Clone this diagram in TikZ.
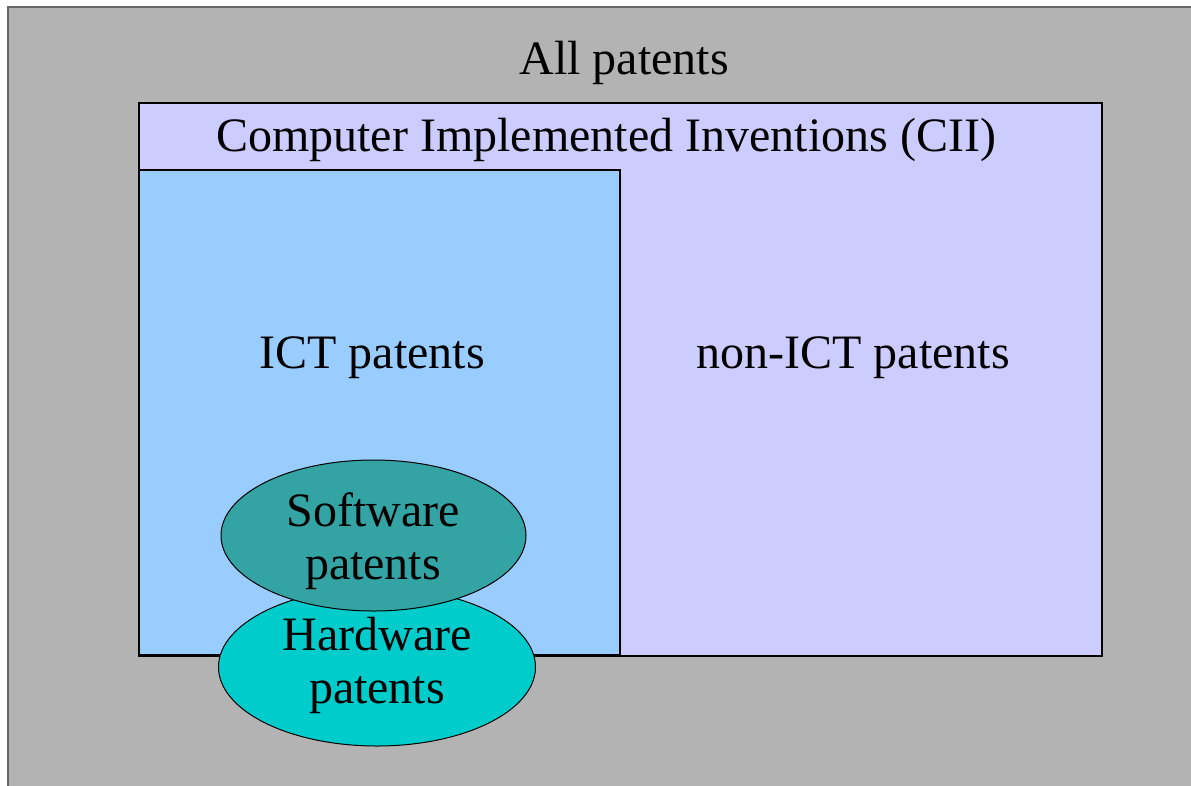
\documentclass[tikz,border=0pt]{standalone}
\usepackage{fontspec}
\setmainfont{Liberation Serif}
\usetikzlibrary{shapes.geometric}
\definecolor{allgray}{HTML}{B3B3B3}
\definecolor{allborder}{HTML}{666666}
\definecolor{ciifill}{HTML}{CCCCFF}
\definecolor{ictfill}{HTML}{99CCFF}
\definecolor{hwfill}{HTML}{00CCCC}
\definecolor{swfill}{HTML}{33A3A3}
\tikzset{
  area/.style={draw=black, line width=1.2pt},
  label/.style={font=\fontsize{48}{53}\selectfont, align=center, inner sep=0pt},
  blob/.style={ellipse, draw=black, line width=1pt, inner sep=0pt}
}
\begin{document}
\begin{tikzpicture}[x=1pt,y=-1pt]
  \useasboundingbox (0,0) rectangle (1191,785);
  \clip (0,0) rectangle (1191,785);
  % all patents
  \filldraw[fill=allgray, draw=allborder, line width=2pt] (8,7) rectangle (1210,800);
  \node[label] (all) at (624,63) {All patents};
  % computer implemented inventions
  \filldraw[area, fill=ciifill] (139,103) rectangle (1102,656);
  \node[label] (cii) at (606,140) {Computer Implemented Inventions (CII)};
  \node[label] (nonict) at (853,358) {non-ICT patents};
  % ICT patents
  \filldraw[area, fill=ictfill] (139,170) rectangle (620,655);
  \node[label] (ict) at (372,358) {ICT patents};
  % hardware and software patents
  \node[blob, fill=hwfill, minimum width=317pt, minimum height=158pt] (hw) at (377,667) {};
  \node[label] (hwtext) at (377,665.5) {Hardware\\patents};
  \node[blob, fill=swfill, minimum width=305pt, minimum height=151pt] (sw) at (373.5,535.5) {};
  \node[label] (swtext) at (373,541.5) {Software\\patents};
\end{tikzpicture}
\end{document}
